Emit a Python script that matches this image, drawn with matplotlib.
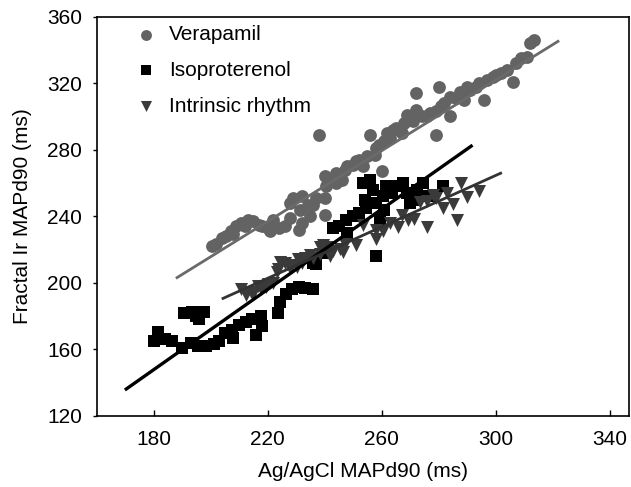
import matplotlib
matplotlib.use("Agg")
import matplotlib.pyplot as plt
import numpy as np

plt.rcParams['font.family'] = ['Liberation Sans', 'DejaVu Sans']

# ---- data ----
ver_x = [200.5, 202, 204, 205.5, 207, 208, 209, 210.5, 212, 213, 215, 217, 218, 220, 221, 222, 224, 226,
         228, 228, 229, 231, 231.5, 232, 232, 234, 235, 236, 237, 238, 240, 240, 240.5, 240, 242, 244, 244,
         246, 247, 248, 250, 251, 252, 253.5, 255, 256, 257.5, 258, 259, 260, 261, 262, 263, 264, 265, 267,
         268, 269, 270, 271, 272, 272, 274, 276, 277, 279, 279, 280, 281, 282, 284, 284, 286, 287.5, 289,
         290, 291, 293, 294, 296, 297, 299, 300, 302, 304, 306, 307, 309, 311, 312, 313.5]
ver_y = [222, 223, 227, 228, 231, 229, 234, 236, 234, 238, 237, 235, 234, 233, 231, 238, 233, 234,
         239, 248, 251, 232, 244, 236, 252, 247, 240, 247, 251, 289, 241, 251, 258, 264, 262, 260, 266,
         262, 268, 270, 271, 273, 274, 270, 276, 289, 277, 281, 283, 267, 285, 290, 287, 292, 293, 290,
         296, 301, 298, 297, 304, 314, 300, 300, 302, 303, 289, 318, 306, 308, 312, 300, 311, 315, 310,
         318, 316, 318, 320, 310, 322, 324, 325, 326, 328, 321, 332, 335, 336, 344, 346]

iso_x = [180, 181.5, 184, 186.5, 190.5, 190, 193, 193.5, 195, 196, 197.5, 195.5, 198.5, 201, 203, 205,
         207.5, 208, 210, 212.5, 214.5, 216, 217.5, 218, 223.5, 224.5, 226.5, 228.5, 231, 233, 236, 237,
         236, 240, 243, 245, 247.5, 248, 250, 252, 253.5, 254, 254.5, 256, 257, 258, 258, 259.5, 260.5,
         261, 261.5, 263.5, 265, 267.5, 269, 270, 271.5, 272.5, 274.5, 276.5, 281.5]
iso_y = [165, 170.5, 166, 165, 181.5, 161, 163.5, 182.5, 180, 178, 182.5, 162, 162, 163, 165, 170,
         171.5, 167, 174.5, 176.5, 178, 168.5, 180, 174, 181.5, 188.5, 193.5, 196, 197.5, 197, 196, 211,
         212, 218, 233, 234, 238, 230, 240, 242, 260, 250, 245, 262, 256, 248, 216, 238, 252,
         244, 258, 254, 258, 260, 254, 248, 250, 256, 260, 252, 258]

int_x = [210.5, 212.5, 214, 215, 216.5, 217.8, 219.5, 220, 222, 223.2, 223.5, 224.5, 226, 227.7, 228.5,
         230.2, 230.5, 232, 233, 235, 236, 238.3, 238.5, 239.5, 241, 242, 243, 245.5, 246.5, 247, 251,
         253.5, 258, 258, 260.5, 263, 265.9, 267, 269.3, 271.5, 273.4, 275.8, 276, 278, 279, 281.6, 283,
         285, 286.3, 288, 289.8, 294]
int_y = [196.5, 192.5, 194.5, 193, 198, 196, 197.5, 199.5, 200, 206.5, 208.5, 212.5, 212, 209, 210.5,
         209.5, 214, 212, 215, 216.5, 215, 217, 221.5, 222.5, 221.5, 216, 219, 220, 218.5, 223, 222.5,
         234.5, 226.5, 232, 231, 236, 233.7, 241, 237.7, 238.5, 248.8, 233.7, 249, 253, 251, 245, 254,
         247.5, 237.7, 260, 251.5, 255]

# regression lines: (x start, x end, slope, intercept)
ver_fit = [187.8, 322.3, 1.063, 3.0]
iso_fit = [169.9, 291.9, 1.207, -69.6]
int_fit = [203.9, 302.2, 0.773, 32.6]

labels = ["Verapamil", "Isoproterenol", "Intrinsic rhythm"]
x_ticks = [180, 220, 260, 300, 340]
y_ticks = [120, 160, 200, 240, 280, 320, 360]

# ---- plot ----
fig = plt.figure(figsize=(6.31, 4.87), dpi=100)
ax = fig.add_axes([0.1532, 0.1464, 0.9968 - 0.1532, 0.9657 - 0.1464])

c_ver = '#636363'
c_iso = '#000000'
c_int = '#3a3a3a'
FS = 15

ax.scatter(ver_x, ver_y, s=85, marker='o', color=c_ver, linewidths=0, label=labels[0], zorder=2)
ax.scatter(iso_x, iso_y, s=78, marker='s', color=c_iso, linewidths=0, label=labels[1], zorder=3)
ax.scatter(int_x, int_y, s=88, marker='v', color=c_int, linewidths=0, label=labels[2], zorder=4)

for fit, col, lw in [(ver_fit, '#6a6a6a', 2.0), (iso_fit, '#000000', 2.4), (int_fit, '#333333', 2.0)]:
    xs = np.array(fit[:2])
    ax.plot(xs, fit[2] * xs + fit[3], color=col, lw=lw, zorder=5, solid_capstyle='butt')

ax.set_xlim(160, 346.8)
ax.set_ylim(120, 360)
ax.set_xticks(x_ticks)
ax.set_yticks(y_ticks)
ax.tick_params(axis='x', direction='in', length=4.5, width=1, labelsize=FS, pad=10)
ax.tick_params(axis='y', direction='out', length=3, width=1, labelsize=FS, pad=7.5)
for sp in ax.spines.values():
    sp.set_linewidth(1.2)

ax.set_xlabel("Ag/AgCl MAPd90 (ms)", fontsize=FS, labelpad=10)
ax.set_ylabel("Fractal Ir MAPd90 (ms)", fontsize=FS, labelpad=11)

leg = ax.legend(loc='upper left', bbox_to_anchor=(0.057, 1.0), frameon=False, fontsize=FS,
                labelspacing=0.81, handletextpad=0.6, handlelength=1.0, borderaxespad=0.0,
                markerscale=0.85)

fig.savefig("out.png", dpi=100)
